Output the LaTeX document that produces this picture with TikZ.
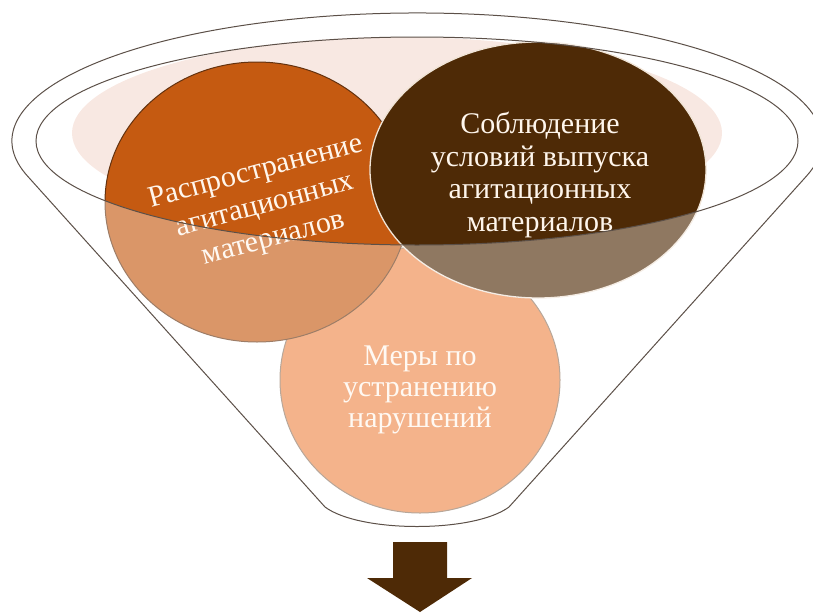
\documentclass[tikz,border=0pt]{standalone}
\usepackage{fontspec}
\setmainfont{Liberation Serif}
\usetikzlibrary{shapes.geometric, positioning}

\definecolor{rust}{RGB}{197,90,17}
\definecolor{umber}{RGB}{78,42,6}
\definecolor{peach}{RGB}{238,136,72}
\definecolor{blush}{RGB}{248,232,226}
\definecolor{rim}{RGB}{92,80,72}
\definecolor{cream}{RGB}{255,246,236}
\definecolor{seam}{RGB}{240,228,214}

\begin{document}
\begin{tikzpicture}
	[x=1pt, y=1pt, bubble/.style={ellipse, inner sep=0pt, line width=1pt},
	 caption/.style={text=cream, align=center, font=\fontsize{30}{32.5}\selectfont}]
   \useasboundingbox (0,0) rectangle (813,-613);
   \coordinate (mouth) at (417,-141);
   \fill[blush] (397,-133) ellipse [x radius=325, y radius=96];
   \node[bubble, fill=peach, draw={rgb,255:red,142;green,116;blue,96}, minimum width=280pt, minimum height=266pt] (fix) at (420,-380) {};
   \node[bubble, fill=rust, draw={rgb,255:red,100;green,50;blue,15}, minimum width=304pt, minimum height=280pt] (spread) at (257,-202) {};
   \node[bubble, fill=umber, draw=seam, line width=1.3pt, minimum width=336pt, minimum height=256pt] (rules) at (538,-170) {};
   \node[caption, rotate=15, font=\fontsize{30}{34.5}\selectfont] (spread_txt) at (265,-206) {Распространение\\агитационных\\материалов};
   \node[caption] (rules_txt) at (540,-175) {Соблюдение\\условий выпуска\\агитационных\\материалов};
   \node[caption, font=\fontsize{30}{31}\selectfont] (fix_txt) at (420,-390) {Меры по\\устранению\\нарушений};
   \path[fill=white, fill opacity=.37, even odd rule]
    (mouth) ++(196:405 and 128) arc [start angle=196, end angle=-16, x radius=405, y radius=128]
          -- (509,-507) .. controls (474,-533) and (360,-533) .. (325,-507) -- cycle
    (mouth) ellipse [x radius=381, y radius=104];
   \draw[rim, line width=1pt]
    (mouth) ++(196:405 and 128) arc [start angle=196, end angle=-16, x radius=405, y radius=128]
          -- (509,-507) .. controls (474,-533) and (360,-533) .. (325,-507) -- cycle
    (mouth) ellipse [x radius=381, y radius=104];
   \fill[umber] (393,-542) -- (447,-542) -- (447,-578) -- (472,-578) -- (420,-612)
          -- (367,-578) -- (393,-578) -- cycle;
\end{tikzpicture}
\end{document}
